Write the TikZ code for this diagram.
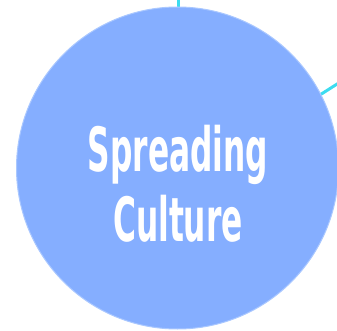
\documentclass[tikz,border=0pt]{standalone}
\usepackage{fontspec}
\newfontfamily\labelfont{DejaVu Sans Condensed}
\usetikzlibrary{positioning}
\definecolor{bubble}{RGB}{133,174,255}
\definecolor{bubbleedge}{RGB}{170,200,255}
\definecolor{link}{RGB}{60,220,240}

\begin{document}
\begin{tikzpicture}[x=1pt,y=-1pt,
  bubblestyle/.style={circle,fill=bubble,draw=bubbleedge,line width=1pt,minimum size=322pt,inner sep=0pt},
  linkstyle/.style={draw=link,line width=3pt}]
  \useasboundingbox (0,0) rectangle (337,331);
  \coordinate (topend) at (178,-2);
  \coordinate (rightend) at (345,79);
  \draw[linkstyle] (topend) -- (178,100);
  \draw[linkstyle] (rightend) -- (260,133);
  \node[bubblestyle] (culture) at (177.5,168) {};
  \node[text=white,font=\labelfont\bfseries\fontsize{61}{70}\selectfont,align=center,xscale=0.57] (label) at (178,184) {Spreading\\Culture};
\end{tikzpicture}
\end{document}
